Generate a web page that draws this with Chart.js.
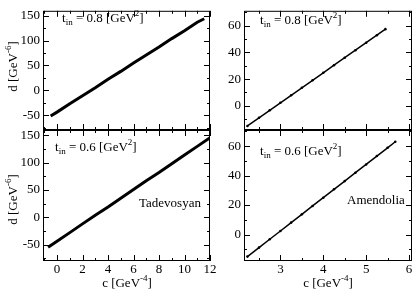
<!DOCTYPE html>
<html><head><meta charset="utf-8">
<script src="https://cdn.jsdelivr.net/npm/chart.js@4/dist/chart.umd.min.js"></script>
<style>
html,body{margin:0;padding:0;background:#fff;}
body{width:415px;height:294px;position:relative;overflow:hidden;font-family:"Liberation Serif",serif;}
canvas{position:absolute;left:0;top:0;}
.t{position:absolute;font-size:13px;line-height:13px;white-space:nowrap;color:#000;}
.t sup,.t sub{font-size:9px;line-height:0;position:relative;vertical-align:baseline;}
.t sup{top:-6px;} .t sub{top:3px;}
.rot{width:90px;text-align:center;transform:rotate(-90deg);transform-origin:center center;}
.ctr{width:90px;text-align:center;}
</style></head><body>
<canvas id="p1" width="415" height="294"></canvas>
<canvas id="p2" width="415" height="294"></canvas>
<canvas id="p3" width="415" height="294"></canvas>
<canvas id="p4" width="415" height="294"></canvas>

<div class="t" style="left:62px;top:11px;">t<sub>in</sub> = 0.8 [GeV<sup>2</sup>]</div>
<div class="t" style="left:260px;top:13px;">t<sub>in</sub> = 0.8 [GeV<sup>2</sup>]</div>
<div class="t" style="left:55px;top:140px;">t<sub>in</sub> = 0.6 [GeV<sup>2</sup>]</div>
<div class="t" style="left:260px;top:144px;">t<sub>in</sub> = 0.6 [GeV<sup>2</sup>]</div>
<div class="t" style="left:139px;top:196px;">Tadevosyan</div>
<div class="t" style="left:347px;top:193px;">Amendolia</div>
<div class="t rot" style="left:-33px;top:60px;">d [GeV<sup>-6</sup>]</div>
<div class="t rot" style="left:-33px;top:193px;">d [GeV<sup>-6</sup>]</div>
<div class="t ctr" style="left:82px;top:276px;">c [GeV<sup>-4</sup>]</div>
<div class="t ctr" style="left:283px;top:276px;">c [GeV<sup>-4</sup>]</div>

<script>
// ---- data ----
const cTad08 = [-0.5, 0, 1, 2, 3, 4, 5, 6, 7, 8, 9, 10, 11, 11.55];
const dTad08 = [-52, -44, -27, -11, 5, 22, 38, 55, 71, 87, 104, 120, 137, 144];
const cTad06 = [-0.7, 0, 1, 2, 3, 4, 5, 6, 7, 8, 9, 10, 11, 12];
const dTad06 = [-55, -44, -28, -12, 4, 19, 35, 51, 67, 82, 98, 114, 130, 146];
const cAme08 = [2.23, 2.5, 2.75, 3, 3.25, 3.5, 3.75, 4, 4.25, 4.5, 4.75, 5, 5.25, 5.45];
const dAme08 = [-15, -8.9, -3.3, 2.3, 7.9, 13.5, 19.1, 24.7, 30.4, 36, 41.6, 47.2, 52.8, 57.3];
const cAme06 = [2.23, 2.5, 2.75, 3, 3.25, 3.5, 3.75, 4, 4.25, 4.5, 4.75, 5, 5.25, 5.5, 5.68];
const dAme06 = [-15, -8.9, -3.2, 2.4, 8.1, 13.7, 19.4, 25, 30.7, 36.3, 42, 47.6, 53.3, 58.9, 63];

// ---- tick labels ----
const leftXTicks = [0, 2, 4, 6, 8, 10, 12];
const leftXMinor = [-1, 1, 3, 5, 7, 9, 11];
const leftYTicks = [-50, 0, 50, 100, 150];
const leftYMinor = [-75, -25, 25, 75, 125];
const rightXTicks = [3, 4, 5, 6];
const rightXMinor = [2.5, 3.5, 4.5, 5.5];
const rightYTicks = [0, 20, 40, 60];
const rightYMinor = [-10, 10, 30, 50, 70];

const FONT = {family: '"Liberation Serif", serif', size: 13};

const framePlugin = {
  id: 'frame',
  afterDraw(chart) {
    const o = chart.options.plugins.frame;
    const {ctx, chartArea: a} = chart;
    const x = chart.scales.x, y = chart.scales.y;
    ctx.save();
    ctx.strokeStyle = '#000';
    ctx.lineWidth = 1;
    ctx.strokeRect(a.left + 0.5, a.top + 0.5, a.right - a.left - 1, a.bottom - a.top - 1);
    ctx.beginPath();
    const vt = (vals, len) => vals.forEach(v => {
      if (v < x.min || v > x.max) return;
      const p = Math.round(x.getPixelForValue(v)) + 0.5;
      ctx.moveTo(p, a.bottom); ctx.lineTo(p, a.bottom - len);
      ctx.moveTo(p, a.top); ctx.lineTo(p, a.top + len);
    });
    const ht = (vals, len) => vals.forEach(v => {
      if (v < y.min || v > y.max) return;
      const p = Math.round(y.getPixelForValue(v)) + 0.5;
      ctx.moveTo(a.left, p); ctx.lineTo(a.left + len, p);
      ctx.moveTo(a.right, p); ctx.lineTo(a.right - len, p);
    });
    vt(o.xMajor, 6); vt(o.xMinor, 3);
    ht(o.yMajor, 6); ht(o.yMinor, 3);
    ctx.stroke();
    ctx.restore();
  }
};

function panel(id, cs, ds, c) {
  const pts = cs.map((v, i) => ({x: v, y: ds[i]}));
  new Chart(document.getElementById(id), {
    type: 'scatter',
    data: {datasets: [{
      data: pts, showLine: true, borderColor: '#000', backgroundColor: '#000',
      borderWidth: c.lw, pointRadius: c.pr, pointBorderWidth: 0, pointHoverRadius: 0, clip: 0
    }]},
    options: {
      responsive: false, animation: false, events: [],
      layout: {padding: c.pad},
      plugins: {legend: {display: false}, tooltip: {enabled: false},
        frame: {xMajor: c.xt, xMinor: c.xm, yMajor: c.yt, yMinor: c.ym}},
      scales: {
        x: {type: 'linear', min: c.xmin, max: c.xmax,
          grid: {display: false, drawTicks: false}, border: {display: false},
          afterBuildTicks: s => { s.ticks = c.xt.map(v => ({value: v})); },
          afterFit: s => { s.height = c.xh; },
          ticks: {display: c.showX, font: FONT, color: '#000', padding: 1, autoSkip: false, maxRotation: 0}},
        y: {type: 'linear', min: c.ymin, max: c.ymax,
          grid: {display: false, drawTicks: false}, border: {display: false},
          afterBuildTicks: s => { s.ticks = c.yt.map(v => ({value: v})); },
          afterFit: s => { s.width = c.yw; },
          ticks: {font: FONT, color: '#000', padding: 3, autoSkip: false}}
      }
    },
    plugins: [framePlugin]
  });
}

panel('p1', cTad08, dTad08, {lw: 3, pr: 0, pad: {left: 0, top: 1, right: 205, bottom: 164},
  xmin: -1.1, xmax: 12, ymin: -80, ymax: 160, xt: leftXTicks, xm: leftXMinor, yt: leftYTicks, ym: leftYMinor,
  xh: 0, showX: false, yw: 43});
panel('p2', cAme08, dAme08, {lw: 1.5, pr: 1.3, pad: {left: 200, top: 1, right: 3, bottom: 164},
  xmin: 2.15, xmax: 6.07, ymin: -18, ymax: 71, xt: rightXTicks, xm: rightXMinor, yt: rightYTicks, ym: rightYMinor,
  xh: 0, showX: false, yw: 44});
panel('p3', cTad06, dTad06, {lw: 3, pr: 0, pad: {left: 0, top: 130, right: 205, bottom: 13},
  xmin: -1.1, xmax: 12, ymin: -80, ymax: 160, xt: leftXTicks, xm: leftXMinor, yt: leftYTicks, ym: leftYMinor,
  xh: 20, showX: true, yw: 43});
panel('p4', cAme06, dAme06, {lw: 1.5, pr: 1.3, pad: {left: 200, top: 130, right: 3, bottom: 13},
  xmin: 2.15, xmax: 6.07, ymin: -18, ymax: 71, xt: rightXTicks, xm: rightXMinor, yt: rightYTicks, ym: rightYMinor,
  xh: 20, showX: true, yw: 44});
</script>
</body></html>
